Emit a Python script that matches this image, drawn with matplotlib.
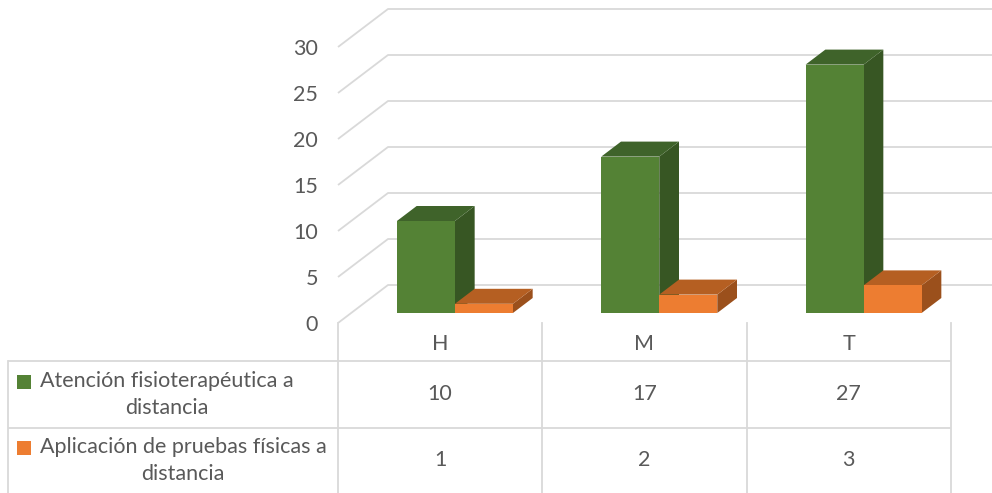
import numpy as np
import matplotlib.pyplot as plt
from matplotlib.patches import Polygon

# --- data ---
categories = ['H', 'M', 'T']
series_names = ['Atención fisioterapéutica a\ndistancia',
                'Aplicación de pruebas físicas a\ndistancia']
atencion = [10, 17, 27]
pruebas = [1, 2, 3]
series_values = [atencion, pruebas]
yticks = [0, 5, 10, 15, 20, 25, 30]

# --- style ---
front_cols = ['#548235', '#ed7d31']
top_cols = ['#3f632a', '#b55f22']
side_cols = ['#375623', '#9b501c']
grid_col = '#d9d9d9'
txt_col = '#595959'
fs = 15.5
plt.rcParams['font.family'] = ['Lato', 'DejaVu Sans']

W, H = 992, 493
fig = plt.figure(figsize=(W / 100, H / 100), dpi=100)

# pixel geometry of the plot (front plane)
x_left, x_right = 338, 951
cat_w = (x_right - x_left) / len(categories)
y0_px = 323            # value 0 on front plane, from top
px_per_unit = 9.2
depth_px = (50, 38)    # x / y shift from front to back wall

ax = fig.add_axes([0, 0, 1, 1])
ax.set_xlim(-0.5 - x_left / cat_w, len(categories) - 0.5 + (W - x_right) / cat_w)
ax.set_ylim(-(H - y0_px) / px_per_unit, y0_px / px_per_unit)
ax.axis('off')

Dx = depth_px[0] / cat_w
Dy = depth_px[1] / px_per_unit


def proj(x, v, d):
    return (x + d * Dx, v + d * Dy)


# gridlines: diagonal along left wall, then along back wall
xmax = ax.get_xlim()[1]
for v in yticks:
    p0 = proj(-0.5, v, 0)
    p1 = proj(-0.5, v, 1)
    ax.plot([p0[0], p1[0], xmax], [p0[1], p1[1], p1[1]], color=grid_col,
            lw=1.3, zorder=1, solid_capstyle='butt')
    ax.text(-0.5 - 20 / cat_w, v - 0.2, str(v), ha='right', va='center',
            fontsize=fs, color=txt_col)

# bars
d0, d1 = 10 / 38, 25 / 38
bw = 58 / cat_w
start = -0.276
for i, cat in enumerate(categories):
    for s, vals in enumerate(series_values):
        xa = i + start + s * bw
        xb = xa + bw
        v = vals[i]
        front = [proj(xa, 0, d0), proj(xb, 0, d0), proj(xb, v, d0), proj(xa, v, d0)]
        top = [proj(xa, v, d0), proj(xb, v, d0), proj(xb, v, d1), proj(xa, v, d1)]
        side = [proj(xb, 0, d0), proj(xb, 0, d1), proj(xb, v, d1), proj(xb, v, d0)]
        z = 3 + i * 2 + s
        ax.add_patch(Polygon(side, closed=True, fc=side_cols[s], ec='none', zorder=z))
        ax.add_patch(Polygon(top, closed=True, fc=top_cols[s], ec='none', zorder=z))
        ax.add_patch(Polygon(front, closed=True, fc=front_cols[s], ec='none', zorder=z))

# --- data table (pixel coordinates) ---
tab = fig.add_axes([0, 0, 1, 1])
tab.set_xlim(0, W)
tab.set_ylim(H, 0)
tab.axis('off')
tab.patch.set_alpha(0)

row_tops = [361, 428, H + 5]
lw = 1.3
for y in row_tops[:2]:
    tab.plot([8, x_right], [y, y], color=grid_col, lw=lw, solid_capstyle='butt')
tab.plot([8, 8], [row_tops[0], H], color=grid_col, lw=lw)
for k in range(len(categories) + 1):
    xk = x_left + k * cat_w
    tab.plot([xk, xk], [y0_px, H], color=grid_col, lw=lw)

for i, cat in enumerate(categories):
    xc = x_left + (i + 0.5) * cat_w
    tab.text(xc, 344, cat, ha='center', va='center', fontsize=fs, color=txt_col)

label_centers = [167, 183]
for s, name in enumerate(series_names):
    yc = (row_tops[s] + min(row_tops[s + 1], H)) / 2
    tab.text(label_centers[s], yc, name, ha='center', va='center', fontsize=fs,
             color=txt_col, multialignment='center', linespacing=1.45)
    tab.add_patch(plt.Rectangle((17, yc - 20), 14, 14, fc=front_cols[s], ec='none'))
    for i in range(len(categories)):
        xc = x_left + (i + 0.5) * cat_w
        tab.text(xc, yc, str(series_values[s][i]), ha='center', va='center',
                 fontsize=fs, color=txt_col)

fig.savefig('out.png', dpi=100)
